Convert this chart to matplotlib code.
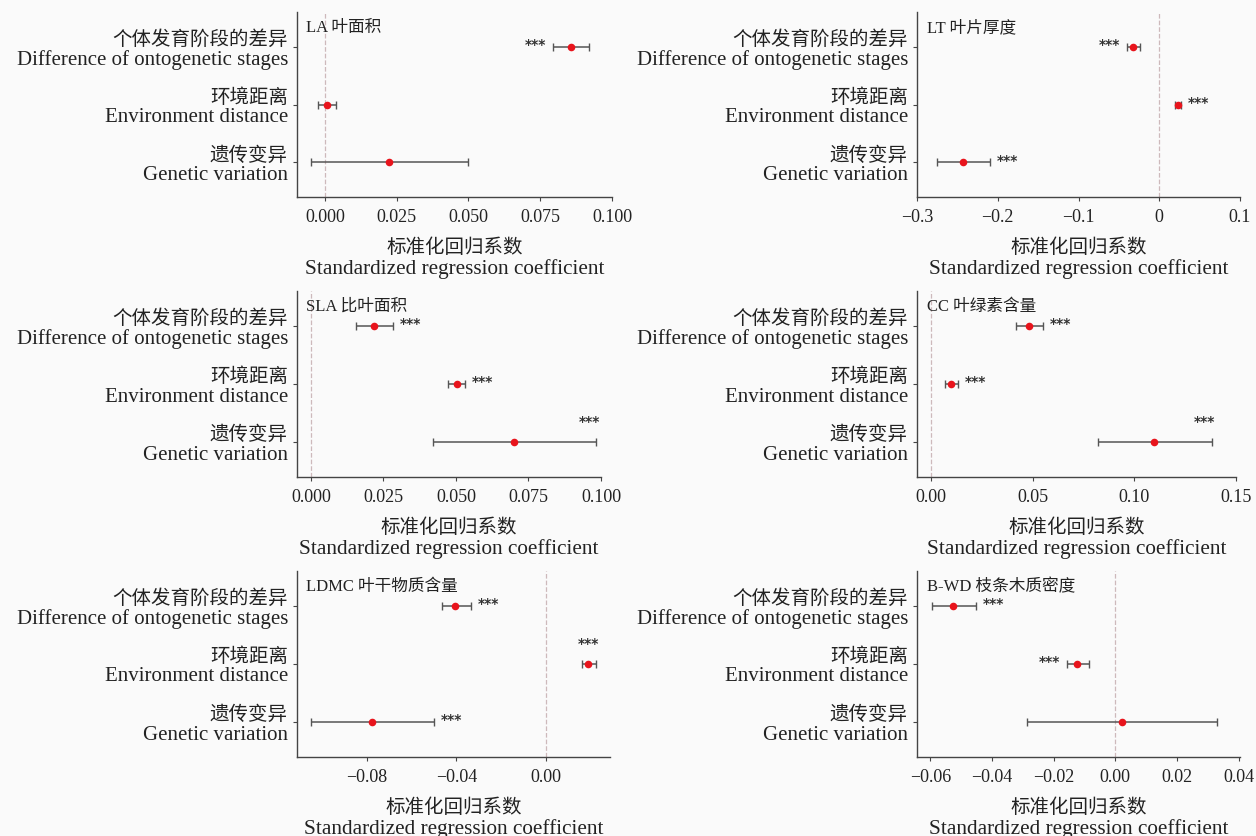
import numpy as np
import matplotlib
matplotlib.use('Agg')
import matplotlib.pyplot as plt

plt.rcParams['font.family'] = ['Liberation Serif', 'Noto Sans CJK SC']
plt.rcParams['axes.unicode_minus'] = True

# row labels (top to bottom)
rowsCn = ['个体发育阶段的差异', '环境距离', '遗传变异']
rowsEn = ['Difference of ontogenetic stages', 'Environment distance', 'Genetic variation']

traitNames = ['LA 叶面积', 'LT 叶片厚度', 'SLA 比叶面积', 'CC 叶绿素含量',
              'LDMC 叶干物质含量', 'B-WD 枝条木质密度']

xLabelCn = '标准化回归系数'
xLabelEn = 'Standardized regression coefficient'

# coefficient estimates and 95% intervals, one list per trait
estLA = [0.0856, 0.0006, 0.0224]
lowLA = [0.0796, -0.0024, -0.0049]
highLA = [0.0921, 0.0040, 0.0500]

estLT = [-0.0327, 0.0227, -0.2436]
lowLT = [-0.0398, 0.0200, -0.2754]
highLT = [-0.0242, 0.0265, -0.2095]

estSLA = [0.0216, 0.0504, 0.0700]
lowSLA = [0.0154, 0.0473, 0.0420]
highSLA = [0.0282, 0.0531, 0.0983]

estCC = [0.0480, 0.0098, 0.1098]
lowCC = [0.0418, 0.0067, 0.0822]
highCC = [0.0549, 0.0131, 0.1380]

estLDMC = [-0.0404, 0.0189, -0.0776]
lowLDMC = [-0.0465, 0.0162, -0.1047]
highLDMC = [-0.0336, 0.0222, -0.0500]

estBWD = [-0.0525, -0.0124, 0.0020]
lowBWD = [-0.0595, -0.0157, -0.0287]
highBWD = [-0.0453, -0.0087, 0.0328]

# significance labels and where they sit: L = left of bar, R = right, A = above bar end
sigLA = ['***', '', '']
posLA = ['L', '', '']
sigLT = ['***', '***', '***']
posLT = ['L', 'R', 'R']
sigSLA = ['***', '***', '***']
posSLA = ['R', 'R', 'A']
sigCC = ['***', '***', '***']
posCC = ['R', 'R', 'A']
sigLDMC = ['***', '***', '***']
posLDMC = ['R', 'A', 'R']
sigBWD = ['***', '***', '']
posBWD = ['R', 'L', '']

# x axis ticks and limits
ticksLA = [0.0, 0.025, 0.05, 0.075, 0.1]
tickLabelsLA = ['0.000', '0.025', '0.050', '0.075', '0.100']
ticksLT = [-0.3, -0.2, -0.1, 0.0, 0.1]
tickLabelsLT = ['−0.3', '−0.2', '−0.1', '0', '0.1']
ticksSLA = [0.0, 0.025, 0.05, 0.075, 0.1]
tickLabelsSLA = ['0.000', '0.025', '0.050', '0.075', '0.100']
ticksCC = [0.0, 0.05, 0.1, 0.15]
tickLabelsCC = ['0.00', '0.05', '0.10', '0.15']
ticksLDMC = [-0.08, -0.04, 0.0]
tickLabelsLDMC = ['−0.08', '−0.04', '0.00']
ticksBWD = [-0.06, -0.04, -0.02, 0.0, 0.02, 0.04]
tickLabelsBWD = ['−0.06', '−0.04', '−0.02', '0.00', '0.02', '0.04']

panels = [
    (estLA, lowLA, highLA, sigLA, posLA, ticksLA, tickLabelsLA, (-0.0097, 0.1)),
    (estLT, lowLT, highLT, sigLT, posLT, ticksLT, tickLabelsLT, (-0.3, 0.1)),
    (estSLA, lowSLA, highSLA, sigSLA, posSLA, ticksSLA, tickLabelsSLA, (-0.0048, 0.1)),
    (estCC, lowCC, highCC, sigCC, posCC, ticksCC, tickLabelsCC, (-0.007, 0.15)),
    (estLDMC, lowLDMC, highLDMC, sigLDMC, posLDMC, ticksLDMC, tickLabelsLDMC, (-0.111, 0.0285)),
    (estBWD, lowBWD, highBWD, sigBWD, posBWD, ticksBWD, tickLabelsBWD, (-0.0643, 0.0404)),
]

W, H = 1256, 837
bg = '#fafafa'
fig = plt.figure(figsize=(W / 100, H / 100), dpi=100, facecolor=bg)

# axes boxes in pixels: left, right, top, bottom
colLeftPx = [297, 917]
rightPx = [612, 1240, 601, 1236, 610, 1240]
rowTopPx = [13, 292, 572]
rowBottomPx = [198, 478, 758]

yPos = np.arange(1, 4)
px = 0.72  # points per pixel at dpi 100
textColor = '#222222'

for i, (est, low, high, sig, pos, ticks, tickLabels, xlim) in enumerate(panels):
    r, c = divmod(i, 2)
    x0, x1 = colLeftPx[c], rightPx[i]
    y0, y1 = rowTopPx[r], rowBottomPx[r]
    ax = fig.add_axes([x0 / W, 1 - y1 / H, (x1 - x0) / W, (y1 - y0) / H])
    ax.set_facecolor(bg)

    est = np.array(est)
    low = np.array(low)
    high = np.array(high)

    ax.axvline(0, color='#cdb9bb', linestyle='--', linewidth=0.9, zorder=1)
    ax.errorbar(est, yPos, xerr=[est - low, high - est], fmt='none',
                ecolor='#555555', elinewidth=1.1, capsize=2.6, capthick=1.0, zorder=2)
    ax.scatter(est, yPos, s=30, color='#e8141c', zorder=3, linewidths=0)

    for y, s, p, lo, hi in zip(yPos, sig, pos, low, high):
        if not s:
            continue
        if p == 'L':
            xy, off, ha = (lo, y), (-5, 2), 'right'
        elif p == 'R':
            xy, off, ha = (hi, y), (5, 2), 'left'
        else:
            xy, off, ha = (hi, y), (-5, 15), 'center'
        ax.annotate(s, xy=xy, xytext=off, textcoords='offset points', ha=ha, va='center',
                    fontsize=10, fontweight='bold', color='#333333', family='DejaVu Sans')

    ax.set_ylim(3.6, 0.4)
    ax.set_xlim(*xlim)
    ax.set_yticks(yPos)
    ax.set_yticklabels([])
    ax.set_xticks(ticks)
    ax.set_xticklabels(tickLabels, fontsize=13, color=textColor)
    ax.tick_params(axis='both', direction='out', length=3, color='#444444', pad=5)

    # two-line row labels: Chinese above, English below
    for y, cn, en in zip(yPos, rowsCn, rowsEn):
        ax.annotate(cn, xy=(0, y), xycoords=('axes fraction', 'data'),
                    xytext=(-9 * px, 8 * px), textcoords='offset points',
                    ha='right', va='center', fontsize=14, color=textColor)
        ax.annotate(en, xy=(0, y), xycoords=('axes fraction', 'data'),
                    xytext=(-9 * px, -12 * px), textcoords='offset points',
                    ha='right', va='center', fontsize=15, color=textColor)

    for side in ['top', 'right']:
        ax.spines[side].set_visible(False)
    for side in ['left', 'bottom']:
        ax.spines[side].set_color('#444444')
        ax.spines[side].set_linewidth(1.0)

    # axis title, two lines
    ax.annotate(xLabelCn, xy=(0.5, 0), xycoords='axes fraction',
                xytext=(0, -50 * px), textcoords='offset points',
                ha='center', va='center', fontsize=14, color=textColor)
    ax.annotate(xLabelEn, xy=(0.5, 0), xycoords='axes fraction',
                xytext=(0, -71 * px), textcoords='offset points',
                ha='center', va='center', fontsize=15.3, color=textColor)

    ax.text(0.03, 0.92, traitNames[i], transform=ax.transAxes, fontsize=12,
            ha='left', va='center', color=textColor)

plt.savefig('out.png', dpi=100, facecolor=bg)
plt.close()
